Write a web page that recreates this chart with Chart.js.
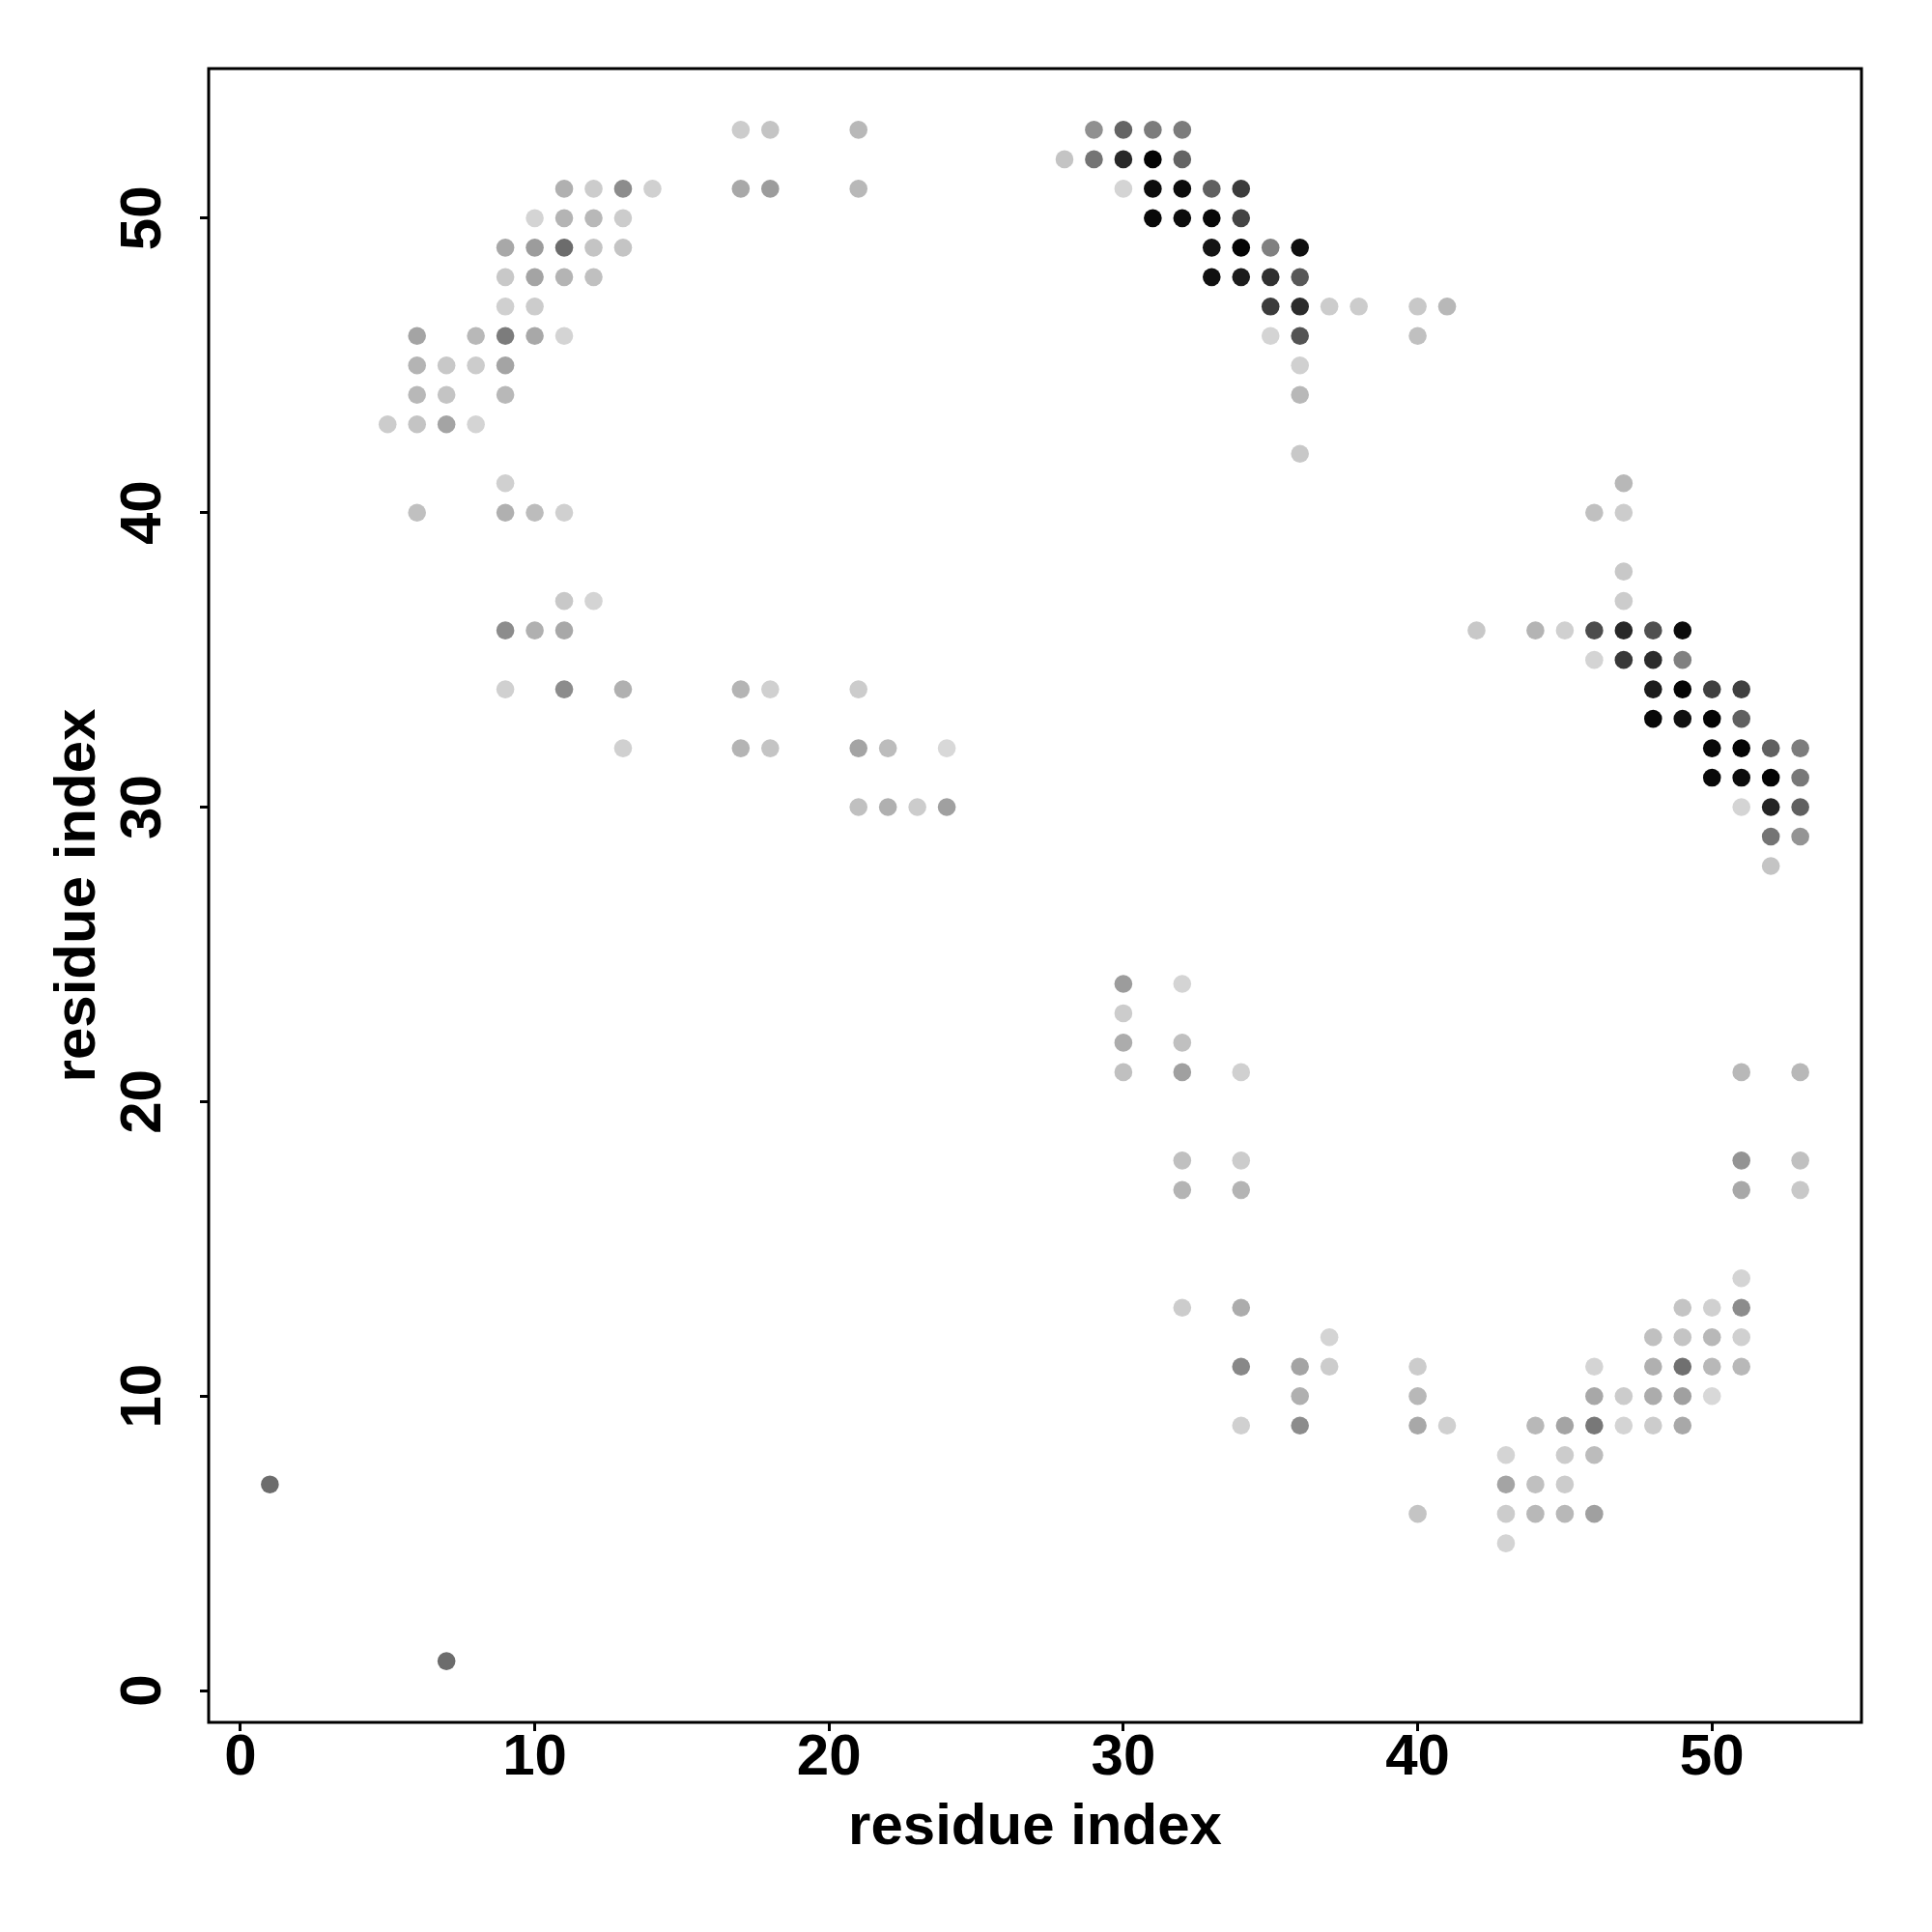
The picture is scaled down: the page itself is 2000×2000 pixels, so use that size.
<!DOCTYPE html>
<html>
<head>
<meta charset="utf-8">
<script src="https://cdn.jsdelivr.net/npm/chart.js@4.4.0/dist/chart.umd.min.js"></script>
<style>
  html, body { margin: 0; padding: 0; background: #fff; }
  #wrap { width: 2000px; height: 2000px; }
</style>
</head>
<body>
<div id="wrap"><canvas id="contactMap" width="2000" height="2000"></canvas></div>
<script>
// Contact map: one row per residue j, listing the residues i in contact
// and the grey level of each dot (0 = black, 255 = white)
const rowJ = [53, 52, 51, 50, 49, 48, 47, 46, 45, 44, 43, 42, 41, 40, 38, 37, 36, 35, 34, 33, 32, 31, 30,
              29, 28, 24, 23, 22, 21, 18, 17, 14, 13, 12, 11, 10, 9, 8, 7, 6, 5, 1];

const rowI = [
    [17, 18, 21, 29, 30, 31, 32],
    [28, 29, 30, 31, 32],
    [11, 12, 13, 14, 17, 18, 21, 30, 31, 32, 33, 34],
    [10, 11, 12, 13, 31, 32, 33, 34],
    [9, 10, 11, 12, 13, 33, 34, 35, 36],
    [9, 10, 11, 12, 33, 34, 35, 36],
    [9, 10, 35, 36, 37, 38, 40, 41],
    [6, 8, 9, 10, 11, 35, 36, 40],
    [6, 7, 8, 9, 36],
    [6, 7, 9, 36],
    [5, 6, 7, 8],
    [36],
    [9, 47],
    [6, 9, 10, 11, 46, 47],
    [47],
    [11, 12, 47],
    [9, 10, 11, 42, 44, 45, 46, 47, 48, 49],
    [46, 47, 48, 49],
    [9, 11, 13, 17, 18, 21, 48, 49, 50, 51],
    [48, 49, 50, 51],
    [13, 17, 18, 21, 22, 24, 50, 51, 52, 53],
    [50, 51, 52, 53],
    [21, 22, 23, 24, 51, 52, 53],
    [52, 53],
    [52],
    [30, 32],
    [30],
    [30, 32],
    [30, 32, 34, 51, 53],
    [32, 34, 51, 53],
    [32, 34, 51, 53],
    [51],
    [32, 34, 49, 50, 51],
    [37, 48, 49, 50, 51],
    [34, 36, 37, 40, 46, 48, 49, 50, 51],
    [36, 40, 46, 47, 48, 49, 50],
    [34, 36, 40, 41, 44, 45, 46, 47, 48, 49],
    [43, 45, 46],
    [1, 43, 44, 45],
    [40, 43, 44, 45, 46],
    [43],
    [7]
];

const rowShade = [
    [0xcc, 0xc4, 0xb8, 0x90, 0x64, 0x7c, 0x7c],
    [0xc4, 0x74, 0x28, 0x04, 0x64],
    [0xb0, 0xcc, 0x8c, 0xd0, 0xa8, 0x9c, 0xb8, 0xd4, 0x0c, 0x0c, 0x60, 0x3c],
    [0xd4, 0xb4, 0xb8, 0xcc, 0x08, 0x0c, 0x08, 0x44],
    [0xa8, 0x9c, 0x6c, 0xc4, 0xc4, 0x14, 0x04, 0x80, 0x10],
    [0xc8, 0xa4, 0xb4, 0xc0, 0x10, 0x1c, 0x30, 0x58],
    [0xd0, 0xcc, 0x3c, 0x2c, 0xcc, 0xcc, 0xc8, 0xb8],
    [0xa4, 0xb8, 0x7c, 0xa8, 0xd4, 0xd4, 0x54, 0xc0],
    [0xb4, 0xc8, 0xcc, 0xa4, 0xd0],
    [0xb8, 0xc4, 0xb8, 0xb8],
    [0xcc, 0xc4, 0xa4, 0xd4],
    [0xc8],
    [0xd0, 0xb8],
    [0xc0, 0xb0, 0xbc, 0xd0, 0xc0, 0xcc],
    [0xc8],
    [0xc8, 0xd4, 0xcc],
    [0x8c, 0xb0, 0xa8, 0xc8, 0xb4, 0xd0, 0x4c, 0x28, 0x50, 0x0c],
    [0xd4, 0x38, 0x2c, 0x80],
    [0xd0, 0x8c, 0xb0, 0xb4, 0xd0, 0xcc, 0x1c, 0x04, 0x40, 0x40],
    [0x08, 0x10, 0x04, 0x60],
    [0xd0, 0xb4, 0xc4, 0xa4, 0xbc, 0xd8, 0x08, 0x04, 0x60, 0x7c],
    [0x08, 0x0c, 0x04, 0x78],
    [0xc0, 0xb0, 0xcc, 0xa0, 0xd4, 0x24, 0x60],
    [0x74, 0x94],
    [0xc4],
    [0x9c, 0xd4],
    [0xcc],
    [0xac, 0xc0],
    [0xc0, 0xa0, 0xd0, 0xb8, 0xb8],
    [0xc0, 0xcc, 0x94, 0xc0],
    [0xb4, 0xb4, 0xa8, 0xc8],
    [0xd4],
    [0xcc, 0xac, 0xc4, 0xd0, 0x8c],
    [0xd4, 0xc0, 0xc4, 0xb8, 0xd0],
    [0x88, 0xa4, 0xcc, 0xcc, 0xd4, 0xb0, 0x70, 0xb8, 0xb8],
    [0xb0, 0xb8, 0xa8, 0xcc, 0xac, 0xa0, 0xd8],
    [0xd0, 0x8c, 0xa8, 0xd0, 0xb8, 0xa4, 0x78, 0xd4, 0xcc, 0xa8],
    [0xd4, 0xcc, 0xbc],
    [0x6c, 0xa4, 0xc0, 0xcc],
    [0xc4, 0xcc, 0xb8, 0xb8, 0xa0],
    [0xd4],
    [0x6c]
];

// axis ticks and range (both axes are residue index)
const axisTicks = [0, 10, 20, 30, 40, 50];
const axisMin = -1.08;
const axisMax = 55.08;

const FONT = "'Liberation Sans', Arial, Helvetica, sans-serif";

// flatten rows into scatter points + per-point colours
const points = [];
const colors = [];
rowJ.forEach((j, r) => {
    rowI[r].forEach((i, k) => {
        const g = rowShade[r][k];
        points.push({ x: i, y: j });
        colors.push(`rgb(${g},${g},${g})`);
    });
});

// box around the plot region
const framePlugin = {
    id: 'frame',
    afterDraw(chart) {
        const { ctx, chartArea: a } = chart;
        ctx.save();
        ctx.strokeStyle = '#000';
        ctx.lineWidth = 3;
        ctx.strokeRect(a.left, a.top, a.right - a.left, a.bottom - a.top);
        ctx.restore();
    }
};

const tickGrid = {
    drawOnChartArea: false,
    drawTicks: true,
    tickLength: 9,
    tickWidth: 3,
    tickColor: '#000'
};

const ctx = document.getElementById('contactMap').getContext('2d');

new Chart(ctx, {
    type: 'scatter',
    data: {
        datasets: [{
            data: points,
            pointBackgroundColor: colors,
            pointRadius: 9.3,
            pointHoverRadius: 9.3,
            pointBorderWidth: 0
        }]
    },
    options: {
        responsive: false,
        animation: false,
        events: [],
        layout: { padding: { left: 45, right: 73, top: 71, bottom: 72 } },
        plugins: {
            legend: { display: false },
            tooltip: { enabled: false }
        },
        scales: {
            x: {
                type: 'linear',
                min: axisMin,
                max: axisMax,
                afterBuildTicks: s => { s.ticks = axisTicks.map(v => ({ value: v })); },
                afterFit: s => { s.height = 145; },
                grid: tickGrid,
                border: { display: false },
                ticks: {
                    color: '#000',
                    padding: -2,
                    maxRotation: 0,
                    minRotation: 0,
                    font: { family: FONT, size: 60, weight: 'bold', lineHeight: 1 }
                },
                title: {
                    display: true,
                    text: 'residue index',
                    color: '#000',
                    padding: 0,
                    font: { family: FONT, size: 60, weight: 'bold' }
                }
            },
            y: {
                type: 'linear',
                min: axisMin,
                max: axisMax,
                afterBuildTicks: s => { s.ticks = axisTicks.map(v => ({ value: v })); },
                afterFit: s => { s.width = 171; },
                grid: tickGrid,
                border: { display: false },
                ticks: {
                    color: '#000',
                    padding: 24,
                    minRotation: 90,
                    maxRotation: 90,
                    crossAlign: 'center',
                    font: { family: FONT, size: 60, weight: 'bold', lineHeight: 1 }
                },
                title: {
                    display: true,
                    text: 'residue index',
                    color: '#000',
                    padding: 0,
                    font: { family: FONT, size: 60, weight: 'bold' }
                }
            }
        }
    },
    plugins: [framePlugin]
});
</script>
</body>
</html>
